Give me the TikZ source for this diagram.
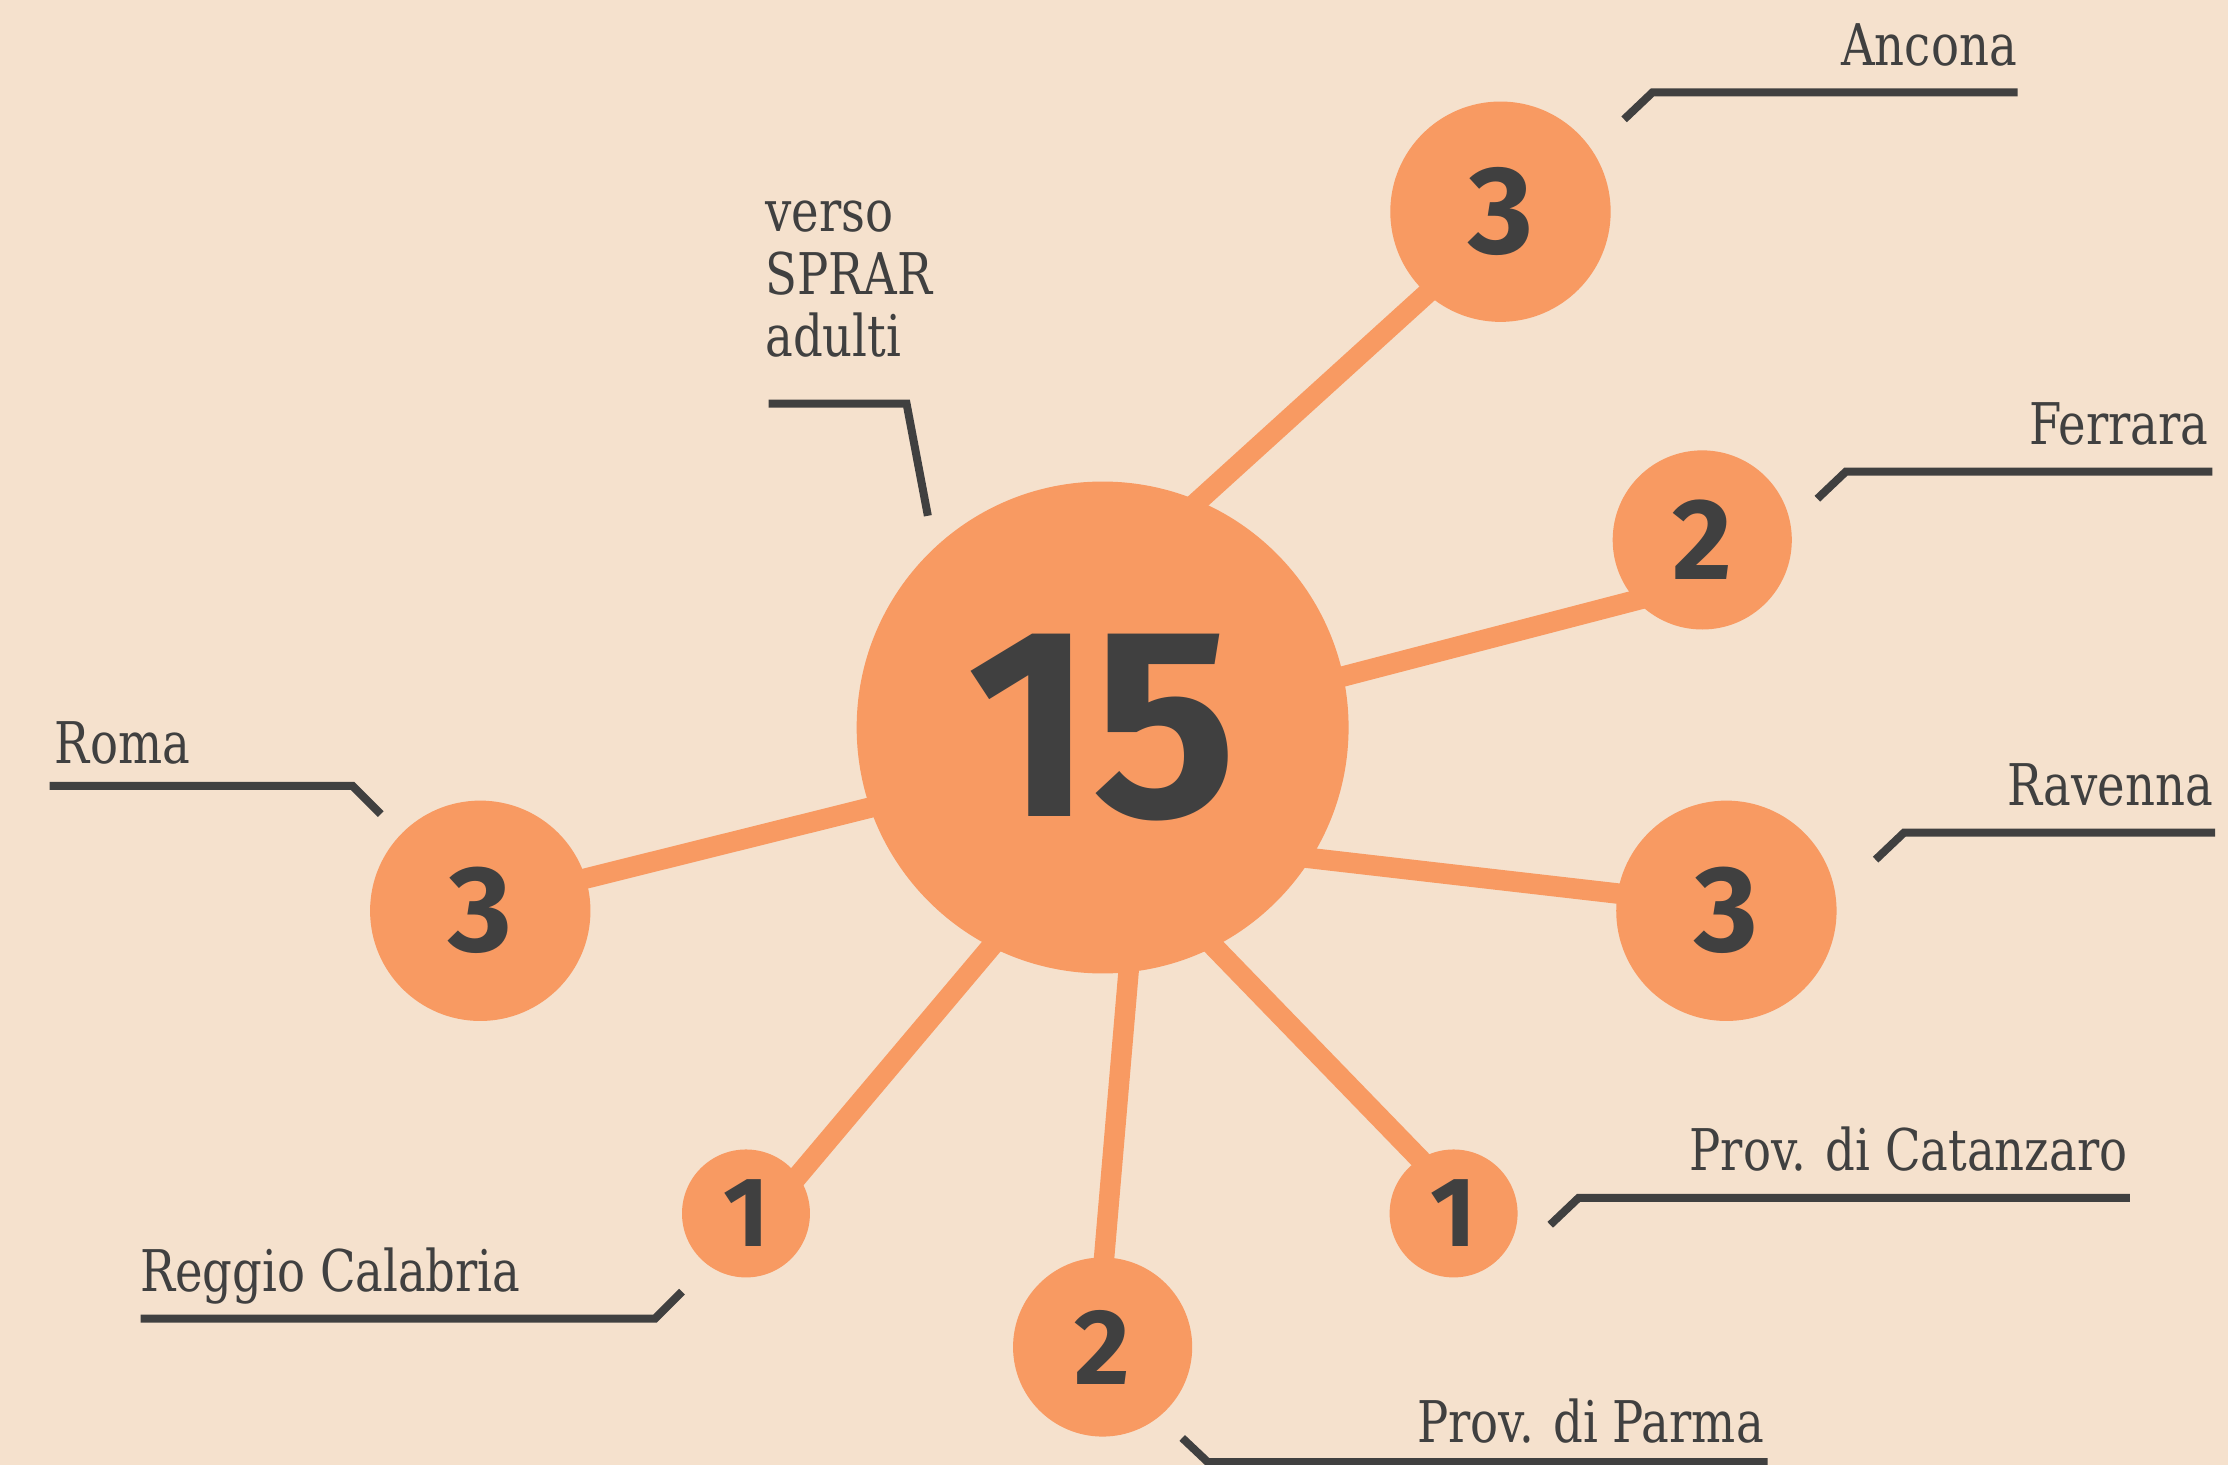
\documentclass[tikz,border=0pt]{standalone}
\usepackage{fontspec}
\newfontfamily\labfont{DejaVu Serif Condensed}[FakeStretch=0.9]
\newfontfamily\numfont{Fira Sans}
\definecolor{bg}{HTML}{F5E1CD}
\definecolor{org}{HTML}{F89A62}
\definecolor{ink}{HTML}{404040}
\pgfdeclarelayer{bglayer}
\pgfdeclarelayer{spokes}
\pgfsetlayers{bglayer,spokes,main}
\tikzset{
  bubble/.style={circle, fill=org, inner sep=0pt, text=ink, font=\numfont\bfseries},
  spoke/.style={draw=org, line width=4.1pt, shorten <=-12pt, shorten >=-12pt},
  leader/.style={draw=ink, line width=1.6pt},
  lab/.style={text=ink, font=\labfont\fontsize{11.5pt}{13pt}\selectfont, inner sep=0pt}
}
\begin{document}
\begin{tikzpicture}[x=0.01cm,y=-0.01cm]
\begin{pgfonlayer}{bglayer}
\fill[bg] (0,0) rectangle (1568,1031);
\end{pgfonlayer}
\useasboundingbox (0,0) rectangle (1568,1031);

% bubbles
\node[bubble, minimum size=3.46cm, font=\numfont\bfseries\fontsize{54pt}{56pt}\selectfont] (main) at (776,512) {15};
\node[bubble, minimum size=1.55cm, font=\numfont\bfseries\fontsize{25pt}{26pt}\selectfont] (anc) at (1056,149) {3};
\node[bubble, minimum size=1.26cm, font=\numfont\bfseries\fontsize{23.1pt}{25pt}\selectfont] (fer) at (1198,380) {2};
\node[bubble, minimum size=1.55cm, font=\numfont\bfseries\fontsize{24.5pt}{26pt}\selectfont] (rav) at (1215,641) {3};
\node[bubble, minimum size=1.55cm, font=\numfont\bfseries\fontsize{24.5pt}{26pt}\selectfont] (rom) at (338,641) {3};
\node[bubble, minimum size=0.90cm, font=\numfont\bfseries\fontsize{19.8pt}{22pt}\selectfont] (reg) at (525,854) {1};
\node[bubble, minimum size=1.26cm, font=\numfont\bfseries\fontsize{21.5pt}{24pt}\selectfont] (par) at (776,948) {2};
\node[bubble, minimum size=0.90cm, font=\numfont\bfseries\fontsize{19.8pt}{22pt}\selectfont] (cat) at (1023,854) {1};

% spokes
\begin{pgfonlayer}{spokes}
\draw[spoke] (main.67) -- (anc.228);
\draw[spoke] (main.12) -- (fer.222);
\draw[spoke] (main.-32) -- (rav.171);
\draw[spoke] (main.199) -- (rom.17);
\draw[spoke] (main.243) -- (reg.36);
\draw[spoke] (main.276) -- (par.89);
\draw[spoke] (main.297) -- (cat.122);
\end{pgfonlayer}

% labels
\node[lab, anchor=base east] (tanc) at (1420,46) {Ancona};
\node[lab, anchor=base east] (tfer) at (1555,313) {Ferrara};
\node[lab, anchor=base east] (trav) at (1558,567) {Ravenna};
\node[lab, anchor=base east] (tcat) at (1498,824) {Prov. di Catanzaro};
\node[lab, anchor=base east] (tpar) at (1242,1015) {Prov. di Parma};
\node[lab, anchor=base west] (treg) at (98,909) {Reggio Calabria};
\node[lab, anchor=base west] (trom) at (38,537) {Roma};
\node[lab, anchor=base west] (tv1) at (538,163) {verso};
\node[lab, anchor=base west] (tv2) at (538,207) {SPRAR};
\node[lab, anchor=base west] (tv3) at (538,251) {adulti};

% leader lines
\coordinate (a1) at (1143,84);  \coordinate (a2) at (1163,65);  \coordinate (a3) at (1420,65);
\coordinate (f1) at (1279,351); \coordinate (f2) at (1299,332); \coordinate (f3) at (1557,332);
\coordinate (r1) at (1320,605); \coordinate (r2) at (1340,586); \coordinate (r3) at (1559,586);
\coordinate (c1) at (1091,862); \coordinate (c2) at (1111,843); \coordinate (c3) at (1499,843);
\coordinate (p1) at (832,1012); \coordinate (p2) at (850,1029); \coordinate (p3) at (1244,1029);
\coordinate (g1) at (480,909);  \coordinate (g2) at (461,928);  \coordinate (g3) at (99,928);
\coordinate (m1) at (268,573);  \coordinate (m2) at (248,553);  \coordinate (m3) at (35,553);
\coordinate (v1) at (541,284);  \coordinate (v2) at (638,284);  \coordinate (v3) at (653,363);
\draw[leader] (a1) -- (a2) -- (a3);
\draw[leader] (f1) -- (f2) -- (f3);
\draw[leader] (r1) -- (r2) -- (r3);
\draw[leader] (c1) -- (c2) -- (c3);
\draw[leader] (p1) -- (p2) -- (p3);
\draw[leader] (g1) -- (g2) -- (g3);
\draw[leader] (m1) -- (m2) -- (m3);
\draw[leader] (v1) -- (v2) -- (v3);
\end{tikzpicture}
\end{document}
